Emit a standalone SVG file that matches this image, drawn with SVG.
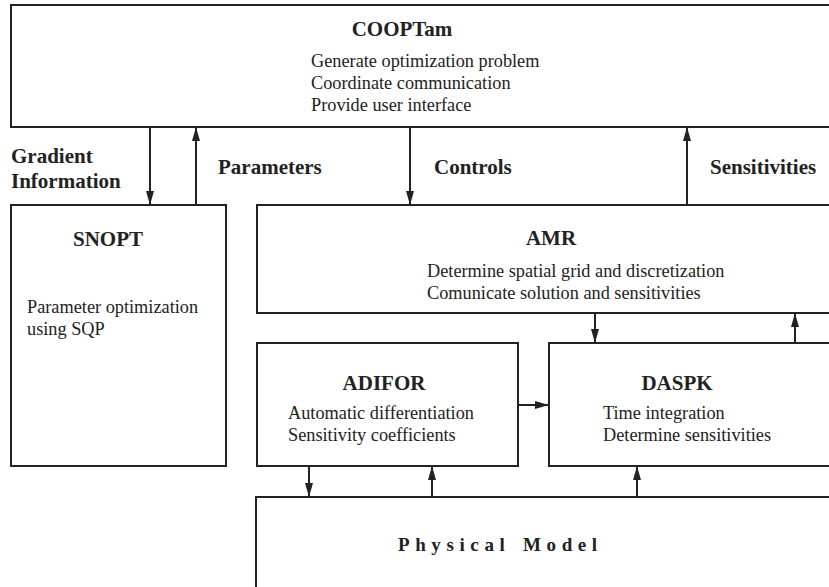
<svg xmlns="http://www.w3.org/2000/svg" width="829" height="587" viewBox="0 0 829 587">
<style>
.box{fill:#fff;stroke:#222;stroke-width:2}
.t{font-family:"Liberation Serif","Times New Roman",serif;font-weight:bold;font-size:21px;fill:#222;text-anchor:middle}
.b{font-family:"Liberation Serif","Times New Roman",serif;font-size:18.3px;fill:#222}
.l{font-family:"Liberation Serif","Times New Roman",serif;font-weight:bold;font-size:21px;fill:#222}
.pm{font-family:"Liberation Serif","Times New Roman",serif;font-weight:bold;font-size:19px;fill:#222;letter-spacing:5.6px}
.c{stroke:#222;stroke-width:2;fill:none;marker-end:url(#ah)}
</style>
<defs>
<marker id="ah" markerUnits="userSpaceOnUse" markerWidth="14" markerHeight="8" refX="14" refY="4" orient="auto">
<path d="M0,0 L14,4 L0,8 z" fill="#222"/>
</marker>
</defs>
<rect width="829" height="587" fill="#fff"/>
<g id="coop">
<rect class="box" x="11" y="5" width="830" height="122"/>
<text class="t" x="402" y="36">COOPTam</text>
<text class="b" x="311" y="67">Generate optimization problem</text>
<text class="b" x="311" y="89">Coordinate communication</text>
<text class="b" x="311" y="111">Provide user interface</text>
</g>
<g id="snopt">
<rect class="box" x="11" y="205" width="215" height="261"/>
<text class="t" x="108" y="246">SNOPT</text>
<text class="b" x="27" y="313">Parameter optimization</text>
<text class="b" x="27" y="335">using SQP</text>
</g>
<g id="amr">
<rect class="box" x="257" y="205" width="580" height="108"/>
<text class="t" x="551" y="245">AMR</text>
<text class="b" x="427" y="277">Determine spatial grid and discretization</text>
<text class="b" x="427" y="299">Comunicate solution and sensitivities</text>
</g>
<g id="adifor">
<rect class="box" x="257" y="343" width="261" height="123"/>
<text class="t" x="384" y="390">ADIFOR</text>
<text class="b" x="288" y="419">Automatic differentiation</text>
<text class="b" x="288" y="441">Sensitivity coefficients</text>
</g>
<g id="daspk">
<rect class="box" x="549" y="343" width="290" height="123"/>
<text class="t" x="677" y="390">DASPK</text>
<text class="b" x="603" y="419">Time integration</text>
<text class="b" x="603" y="441">Determine sensitivities</text>
</g>
<g id="physical">
<rect class="box" x="256" y="497" width="580" height="100"/>
<text class="pm" x="398" y="551">Physical</text>
<text class="pm" x="523" y="551">Model</text>
</g>
<g id="connectors">
<line class="c" x1="150" y1="127" x2="150" y2="205"/>
<line class="c" x1="196" y1="205" x2="196" y2="127"/>
<line class="c" x1="410" y1="127" x2="410" y2="205"/>
<line class="c" x1="687" y1="205" x2="687" y2="127"/>
<line class="c" x1="595" y1="313" x2="595" y2="343"/>
<line class="c" x1="795" y1="343" x2="795" y2="313"/>
<line class="c" x1="518" y1="405" x2="549" y2="405"/>
<line class="c" x1="309" y1="466" x2="309" y2="497"/>
<line class="c" x1="432" y1="497" x2="432" y2="466"/>
<line class="c" x1="637" y1="497" x2="637" y2="466"/>
<text class="l" x="11" y="163">Gradient</text>
<text class="l" x="11" y="188">Information</text>
<text class="l" x="218" y="174">Parameters</text>
<text class="l" x="434" y="174">Controls</text>
<text class="l" x="710" y="174">Sensitivities</text>
</g>
</svg>
